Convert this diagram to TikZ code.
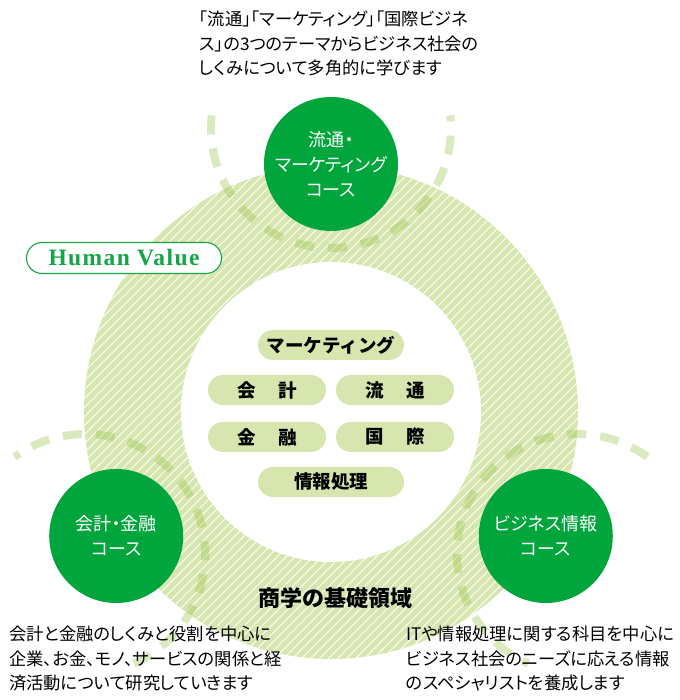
\documentclass[tikz,border=0pt]{standalone}
\usepackage{fontspec}
\setmainfont{Noto Sans CJK JP}
\newfontfamily\gothic[RawFeature=+palt]{Noto Sans CJK JP}
\newfontfamily\hvfont[LetterSpace=6]{Liberation Serif}
\usetikzlibrary{calc}
\definecolor{coursegreen}{RGB}{0,166,60}
\definecolor{ringgreen}{RGB}{214,230,174}
\definecolor{dashgreen}{RGB}{150,195,70}
\definecolor{hvgreen}{RGB}{20,165,70}
\tikzset{
  course/.style={circle, fill=coursegreen, minimum size=134pt, inner sep=0pt, text=white, align=center, font=\gothic\fontsize{18}{25}\selectfont},
  pill/.style={fill=ringgreen, rounded corners=15pt, minimum height=30pt, inner sep=0pt, font=\fontsize{18.5}{20}\selectfont\bfseries},
  shortpill/.style={pill, minimum width=118pt},
  longpill/.style={pill, minimum width=146pt},
  dashline/.style={draw=dashgreen, opacity=0.35, line width=8pt, dash pattern=on 19pt off 14pt},
  desc/.style={anchor=north west, inner sep=0pt, align=left, font=\gothic\fontsize{17.3}{24.5}\selectfont}
}

\begin{document}
\begin{tikzpicture}[x=1pt, y=1pt]
			%%%%% START %%%%%
			\useasboundingbox (0,0) rectangle (679,700);
			\coordinate (ring) at (331,288);
			
			% hatched ring
			\fill[ringgreen] (ring) circle (247);
			\begin{scope}
				\clip (ring) circle (247);
				\foreach \i in {-460,-451,...,545}
					\draw[white, line width=0.9pt] (\i,0) -- ++(700,700);
			\end{scope}
			\fill[white] (ring) circle (150);
			
			% dashed arcs
			\foreach \a in {90,210,330}
				\draw[dashline] ($(ring)+(\a:284)+(\a+84:120)$) arc[start angle=\a+84, end angle=\a+276, radius=120];
			
			% courses
			\node[course] (ryutsu) at ($(ring)+(90:248)$) {流通・\\マーケティング\\コース};
			\node[course] (kaikei) at ($(ring)+(210:248)$) {会計・金融\\コース};
			\node[course] (joho) at ($(ring)+(330:248)$) {ビジネス情報\\コース};
			
			% fields
			\node[longpill] (mkt) at (331,355) {マーケティング};
			\node[shortpill] (acc) at (267,310) {会\hspace{1.2em}計};
			\node[shortpill] (dist) at (395,310) {流\hspace{1.2em}通};
			\node[shortpill] (fin) at (267,263) {金\hspace{1.2em}融};
			\node[shortpill] (intl) at (395,263) {国\hspace{1.2em}際};
			\node[longpill] (info) at (331,218) {情報処理};
			
			\node[font=\fontsize{22}{24}\selectfont\bfseries] (base) at (335,102) {商学の基礎領域};
			
			\node[draw=hvgreen, line width=1.1pt, fill=white, rounded corners=15.5pt, minimum width=195pt, minimum height=31pt, inner sep=0pt, text=hvgreen, font=\hvfont\bfseries\fontsize{23.5}{26}\selectfont] (hv) at (124,442) {Human Value};
			
			% descriptions
			\node[desc] (topdesc) at (199,689) {「流通」「マーケティング」「国際ビジネ\\ス」の3つのテーマからビジネス社会の\\しくみについて多角的に学びます};
			\node[desc] (leftdesc) at (9,74) {会計と金融のしくみと役割を中心に\\企業、お金、モノ、サービスの関係と経\\済活動について研究していきます};
			\node[desc] (rightdesc) at (406,74) {ITや情報処理に関する科目を中心に\\ビジネス社会のニーズに応える情報\\のスペシャリストを養成します};
			%%%%% END %%%%%
\end{tikzpicture}
\end{document}
